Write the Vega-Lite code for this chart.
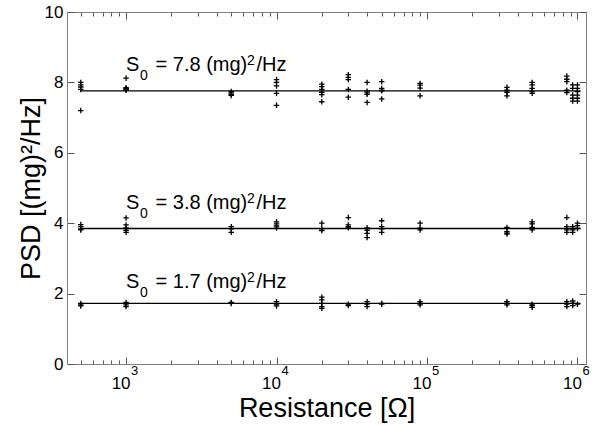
{
  "$schema": "https://vega.github.io/schema/vega-lite/v6.json",
  "width": 519,
  "height": 352,
  "autosize": {"type": "none"},
  "padding": {"left": 67, "top": 12, "right": 7, "bottom": 61},
  "background": "white",
  "config": {"font": "Liberation Sans", "view": {"stroke": null}},
  "datasets": {
    "fits": [
      {"r0": 500, "r1": 1050000, "s": 7.76},
      {"r0": 500, "r1": 1050000, "s": 3.85},
      {"r0": 500, "r1": 1050000, "s": 1.72}
    ],
    "notes": [
      {"r": 1000, "s": 8.33, "mid": "= 7.8 (mg)"},
      {"r": 1000, "s": 4.39, "mid": "= 3.8 (mg)"},
      {"r": 1000, "s": 2.15, "mid": "= 1.7 (mg)"}
    ],
    "exps": [
      {"r": 1000, "y": 0, "e": "3"},
      {"r": 10000, "y": 0, "e": "4"},
      {"r": 100000, "y": 0, "e": "5"},
      {"r": 1000000, "y": 0, "e": "6"}
    ],
    "pts": [
      {"r": 500, "psd": 8.0}, {"r": 500, "psd": 7.93}, {"r": 500, "psd": 7.87}, {"r": 500, "psd": 7.8}, {"r": 500, "psd": 7.2},
      {"r": 500, "psd": 3.96}, {"r": 500, "psd": 3.9}, {"r": 500, "psd": 3.84}, {"r": 500, "psd": 3.81},
      {"r": 500, "psd": 1.72}, {"r": 500, "psd": 1.68}, {"r": 500, "psd": 1.65},
      {"r": 1000, "psd": 8.12}, {"r": 1000, "psd": 7.85}, {"r": 1000, "psd": 7.82}, {"r": 1000, "psd": 7.8}, {"r": 1000, "psd": 7.78},
      {"r": 1000, "psd": 4.15}, {"r": 1000, "psd": 3.95}, {"r": 1000, "psd": 3.87}, {"r": 1000, "psd": 3.8}, {"r": 1000, "psd": 3.74},
      {"r": 1000, "psd": 1.75}, {"r": 1000, "psd": 1.68}, {"r": 1000, "psd": 1.63},
      {"r": 5000, "psd": 7.74}, {"r": 5000, "psd": 7.7}, {"r": 5000, "psd": 7.66}, {"r": 5000, "psd": 7.63},
      {"r": 5000, "psd": 3.9}, {"r": 5000, "psd": 3.84}, {"r": 5000, "psd": 3.74},
      {"r": 5000, "psd": 1.75}, {"r": 5000, "psd": 1.72},
      {"r": 10000, "psd": 8.08}, {"r": 10000, "psd": 8.0}, {"r": 10000, "psd": 7.9}, {"r": 10000, "psd": 7.69}, {"r": 10000, "psd": 7.35},
      {"r": 10000, "psd": 4.04}, {"r": 10000, "psd": 3.98}, {"r": 10000, "psd": 3.92}, {"r": 10000, "psd": 3.86},
      {"r": 10000, "psd": 1.77}, {"r": 10000, "psd": 1.7}, {"r": 10000, "psd": 1.65},
      {"r": 20000, "psd": 7.95}, {"r": 20000, "psd": 7.88}, {"r": 20000, "psd": 7.8}, {"r": 20000, "psd": 7.72}, {"r": 20000, "psd": 7.65}, {"r": 20000, "psd": 7.45},
      {"r": 20000, "psd": 4.0}, {"r": 20000, "psd": 3.84}, {"r": 20000, "psd": 3.79},
      {"r": 20000, "psd": 1.9}, {"r": 20000, "psd": 1.82}, {"r": 20000, "psd": 1.72}, {"r": 20000, "psd": 1.63}, {"r": 20000, "psd": 1.58},
      {"r": 30000, "psd": 8.22}, {"r": 30000, "psd": 8.14}, {"r": 30000, "psd": 8.08}, {"r": 30000, "psd": 7.8}, {"r": 30000, "psd": 7.58},
      {"r": 30000, "psd": 4.16}, {"r": 30000, "psd": 3.95}, {"r": 30000, "psd": 3.9}, {"r": 30000, "psd": 3.87},
      {"r": 30000, "psd": 1.7}, {"r": 30000, "psd": 1.66},
      {"r": 40000, "psd": 8.0}, {"r": 40000, "psd": 7.75}, {"r": 40000, "psd": 7.7}, {"r": 40000, "psd": 7.66}, {"r": 40000, "psd": 7.43},
      {"r": 40000, "psd": 3.87}, {"r": 40000, "psd": 3.8}, {"r": 40000, "psd": 3.71}, {"r": 40000, "psd": 3.59},
      {"r": 40000, "psd": 1.77}, {"r": 40000, "psd": 1.7}, {"r": 40000, "psd": 1.63},
      {"r": 50000, "psd": 8.02}, {"r": 50000, "psd": 7.83}, {"r": 50000, "psd": 7.78}, {"r": 50000, "psd": 7.76}, {"r": 50000, "psd": 7.53},
      {"r": 50000, "psd": 4.07}, {"r": 50000, "psd": 3.9}, {"r": 50000, "psd": 3.84}, {"r": 50000, "psd": 3.74},
      {"r": 50000, "psd": 1.72}, {"r": 50000, "psd": 1.7},
      {"r": 90000, "psd": 7.97}, {"r": 90000, "psd": 7.92}, {"r": 90000, "psd": 7.84}, {"r": 90000, "psd": 7.62},
      {"r": 90000, "psd": 4.0}, {"r": 90000, "psd": 3.86}, {"r": 90000, "psd": 3.81},
      {"r": 90000, "psd": 1.77}, {"r": 90000, "psd": 1.72}, {"r": 90000, "psd": 1.68},
      {"r": 340000, "psd": 7.86}, {"r": 340000, "psd": 7.78}, {"r": 340000, "psd": 7.72}, {"r": 340000, "psd": 7.62},
      {"r": 340000, "psd": 3.88}, {"r": 340000, "psd": 3.76}, {"r": 340000, "psd": 3.72}, {"r": 340000, "psd": 3.69},
      {"r": 340000, "psd": 1.77}, {"r": 340000, "psd": 1.72}, {"r": 340000, "psd": 1.68},
      {"r": 500000, "psd": 8.0}, {"r": 500000, "psd": 7.93}, {"r": 500000, "psd": 7.83}, {"r": 500000, "psd": 7.74}, {"r": 500000, "psd": 7.69},
      {"r": 500000, "psd": 4.04}, {"r": 500000, "psd": 3.98}, {"r": 500000, "psd": 3.88}, {"r": 500000, "psd": 3.81},
      {"r": 500000, "psd": 1.7}, {"r": 500000, "psd": 1.66}, {"r": 500000, "psd": 1.61},
      {"r": 850000, "psd": 8.18}, {"r": 850000, "psd": 8.09}, {"r": 850000, "psd": 8.02}, {"r": 850000, "psd": 7.78}, {"r": 850000, "psd": 7.71},
      {"r": 850000, "psd": 4.16}, {"r": 850000, "psd": 3.9}, {"r": 850000, "psd": 3.81}, {"r": 850000, "psd": 3.74},
      {"r": 850000, "psd": 1.77}, {"r": 850000, "psd": 1.7}, {"r": 850000, "psd": 1.63},
      {"r": 930000, "psd": 7.93}, {"r": 930000, "psd": 7.83}, {"r": 930000, "psd": 7.64}, {"r": 930000, "psd": 7.55}, {"r": 930000, "psd": 7.47},
      {"r": 930000, "psd": 3.9}, {"r": 930000, "psd": 3.81}, {"r": 930000, "psd": 3.74},
      {"r": 930000, "psd": 1.79}, {"r": 930000, "psd": 1.72}, {"r": 930000, "psd": 1.66},
      {"r": 1000000, "psd": 7.93}, {"r": 1000000, "psd": 7.83}, {"r": 1000000, "psd": 7.74}, {"r": 1000000, "psd": 7.64}, {"r": 1000000, "psd": 7.55}, {"r": 1000000, "psd": 7.47},
      {"r": 1000000, "psd": 4.0}, {"r": 1000000, "psd": 3.93}, {"r": 1000000, "psd": 3.85},
      {"r": 1000000, "psd": 1.7}
    ]
  },
  "resolve": {"axis": {"x": "independent", "y": "independent"}},
  "layer": [
    {
      "data": {"name": "fits"},
      "mark": {"type": "rule", "color": "black", "strokeWidth": 1.3},
      "encoding": {
        "x": {
          "field": "r0", "type": "quantitative",
          "scale": {"type": "log", "domain": [405, 1140000], "nice": false},
          "axis": {
            "orient": "bottom",
            "values": [500, 600, 700, 800, 900, 1000, 2000, 3000, 4000, 5000, 6000, 7000, 8000, 9000, 10000, 20000, 30000, 40000, 50000, 60000, 70000, 80000, 90000, 100000, 200000, 300000, 400000, 500000, 600000, 700000, 800000, 900000, 1000000],
            "labelExpr": "datum.value == 1000 || datum.value == 10000 || datum.value == 100000 || datum.value == 1000000 ? '10' : ''",
            "labelOverlap": false, "labelFlush": false, "labelAlign": "right", "labelOffset": 4,
            "tickSize": {"condition": {"test": "datum.value == 1000 || datum.value == 10000 || datum.value == 100000 || datum.value == 1000000", "value": -7}, "value": -4},
            "tickColor": "#555555", "domainColor": "#808080", "grid": false,
            "labelFontSize": 17, "labelColor": "black", "labelPadding": 18,
            "title": "Resistance [Ω]", "titleFontSize": 27, "titleFontWeight": "normal", "titleColor": "black", "titlePadding": 1
          }
        },
        "x2": {"field": "r1"},
        "y": {
          "field": "s", "type": "quantitative",
          "scale": {"domain": [0, 10], "nice": false},
          "axis": {
            "orient": "left",
            "values": [0, 2, 4, 6, 8, 10],
            "tickSize": -7, "tickColor": "#555555", "domainColor": "#808080", "grid": false,
            "labelFontSize": 17, "labelColor": "black", "labelPadding": 11,
            "title": "PSD [(mg)²/Hz]", "titleFontSize": 27, "titleFontWeight": "normal", "titleColor": "black", "titlePadding": -1
          }
        }
      }
    },
    {
      "data": {"name": "pts"},
      "mark": {"type": "point", "shape": "M-1,0H1M0,-1V1", "filled": false, "stroke": "black", "strokeWidth": 1.3, "size": 30, "opacity": 1},
      "encoding": {
        "x": {
          "field": "r", "type": "quantitative",
          "scale": {"type": "log", "domain": [405, 1140000], "nice": false},
          "axis": {
            "orient": "top",
            "values": [500, 600, 700, 800, 900, 1000, 2000, 3000, 4000, 5000, 6000, 7000, 8000, 9000, 10000, 20000, 30000, 40000, 50000, 60000, 70000, 80000, 90000, 100000, 200000, 300000, 400000, 500000, 600000, 700000, 800000, 900000, 1000000],
            "labels": false, "title": null, "grid": false,
            "tickSize": {"condition": {"test": "datum.value == 1000 || datum.value == 10000 || datum.value == 100000 || datum.value == 1000000", "value": -7}, "value": -4},
            "tickColor": "#555555", "domainColor": "#808080"
          }
        },
        "y": {
          "field": "psd", "type": "quantitative",
          "scale": {"domain": [0, 10], "nice": false},
          "axis": {
            "orient": "right", "values": [0, 2, 4, 6, 8, 10],
            "labels": false, "title": null, "grid": false,
            "tickSize": -7, "tickColor": "#555555", "domainColor": "#808080"
          }
        }
      }
    },
    {
      "data": {"name": "exps"},
      "mark": {"type": "text", "align": "left", "baseline": "alphabetic", "fontSize": 13, "color": "black", "dx": 5, "dy": 11},
      "encoding": {
        "x": {"field": "r", "type": "quantitative", "scale": {"type": "log", "domain": [405, 1140000], "nice": false}, "axis": null},
        "y": {"field": "y", "type": "quantitative", "scale": {"domain": [0, 10], "nice": false}, "axis": null},
        "text": {"field": "e"}
      }
    },
    {
      "data": {"name": "notes"},
      "layer": [
        {"mark": {"type": "text", "text": "S", "align": "left", "baseline": "alphabetic", "fontSize": 20, "color": "black"}},
        {"mark": {"type": "text", "text": "0", "align": "left", "baseline": "alphabetic", "fontSize": 14, "color": "black", "dx": 14, "dy": 9}},
        {"mark": {"type": "text", "align": "left", "baseline": "alphabetic", "fontSize": 20, "color": "black", "dx": 29.5}, "encoding": {"text": {"field": "mid"}}},
        {"mark": {"type": "text", "text": "2", "align": "left", "baseline": "alphabetic", "fontSize": 14, "color": "black", "dx": 121, "dy": -6}},
        {"mark": {"type": "text", "text": "/Hz", "align": "left", "baseline": "alphabetic", "fontSize": 20, "color": "black", "dx": 130.5}}
      ],
      "encoding": {
        "x": {"field": "r", "type": "quantitative", "scale": {"type": "log", "domain": [405, 1140000], "nice": false}, "axis": null},
        "y": {"field": "s", "type": "quantitative", "scale": {"domain": [0, 10], "nice": false}, "axis": null}
      }
    }
  ]
}
